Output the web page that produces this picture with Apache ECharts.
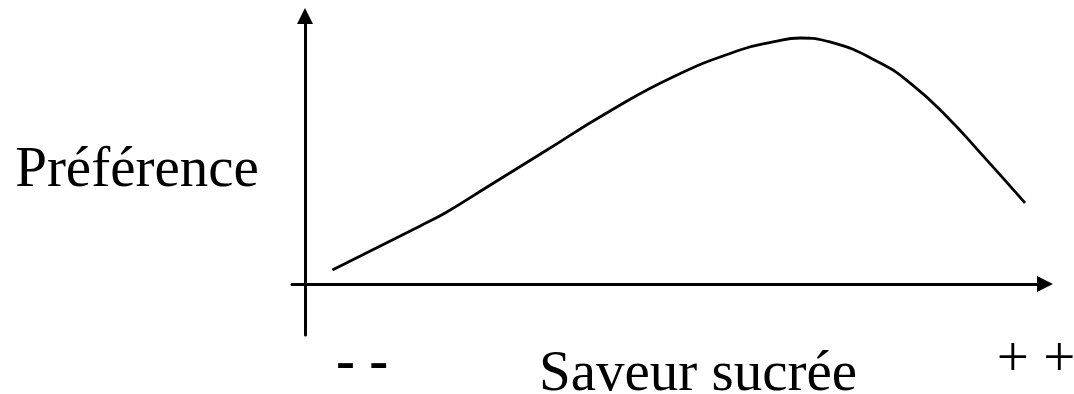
<!DOCTYPE html>
<html>
<head>
<meta charset="utf-8">
<style>
  html, body { margin: 0; padding: 0; background: #ffffff; }
  #chart { width: 1074px; height: 394px; }
</style>
<script src="https://cdn.jsdelivr.net/npm/echarts@6/dist/echarts.min.js"></script>
</head>
<body>
<div id="chart"></div>
<script>
// Sweetness level (0 = not sweet, 100 = very sweet) and the matching preference score
const sweetness  = [3.8, 16.0, 19.7, 25.3, 33.6, 41.9, 51.1, 60.4, 65.0, 68.8, 72.9, 79.9, 84.4, 89.2, 93.8, 100];
const preference = [5.7, 23.7, 29.4, 39.6, 54.7, 69.8, 84.5, 95.5, 98.8, 100.4, 98.8, 90.2, 81.2, 68.2, 53.5, 33.1];

// Text drawn around the axes
const yTitle = 'Préférence';
const xTitle = 'Saveur sucrée';
const lowEnd = '- -';
const highEnd = '+ +';

const serif = '"Liberation Serif", "Times New Roman", Times, serif';

const chart = echarts.init(document.getElementById('chart'), null, { renderer: 'canvas' });

const axisLine = {
  show: true,
  onZero: true,
  symbol: ['none', 'triangle'],
  symbolSize: [16, 16],
  lineStyle: { color: '#000000', width: 3 }
};

chart.setOption({
  backgroundColor: '#ffffff',
  animation: false,
  grid: { left: 292, top: 16, width: 753, height: 319, containLabel: false },
  xAxis: {
    type: 'value',
    min: -1.806,
    max: 102.78,
    axisLine: axisLine,
    axisTick: { show: false },
    axisLabel: { show: false },
    splitLine: { show: false }
  },
  yAxis: {
    type: 'value',
    min: -20.82,
    max: 109.39,
    axisLine: axisLine,
    axisTick: { show: false },
    axisLabel: { show: false },
    splitLine: { show: false }
  },
  series: [{
    type: 'line',
    data: sweetness.map((x, i) => [x, preference[i]]),
    smooth: 0.5,
    showSymbol: false,
    lineStyle: { color: '#000000', width: 2.8 },
    z: 3
  }],
  graphic: [
    { type: 'text', x: 137, y: 171,
      style: { text: yTitle, font: '57px ' + serif, fill: '#000', align: 'center', verticalAlign: 'middle' } },
    { type: 'text', x: 698, y: 375,
      style: { text: xTitle, font: '57px ' + serif, fill: '#000', align: 'center', verticalAlign: 'middle' } },
    { type: 'text', x: 362, y: 364,
      style: { text: lowEnd, font: 'bold 57px ' + serif, fill: '#000', align: 'center', verticalAlign: 'middle' } },
    { type: 'text', x: 1036, y: 361,
      style: { text: highEnd, font: '57px ' + serif, fill: '#000', align: 'center', verticalAlign: 'middle' } }
  ]
});
</script>
</body>
</html>
